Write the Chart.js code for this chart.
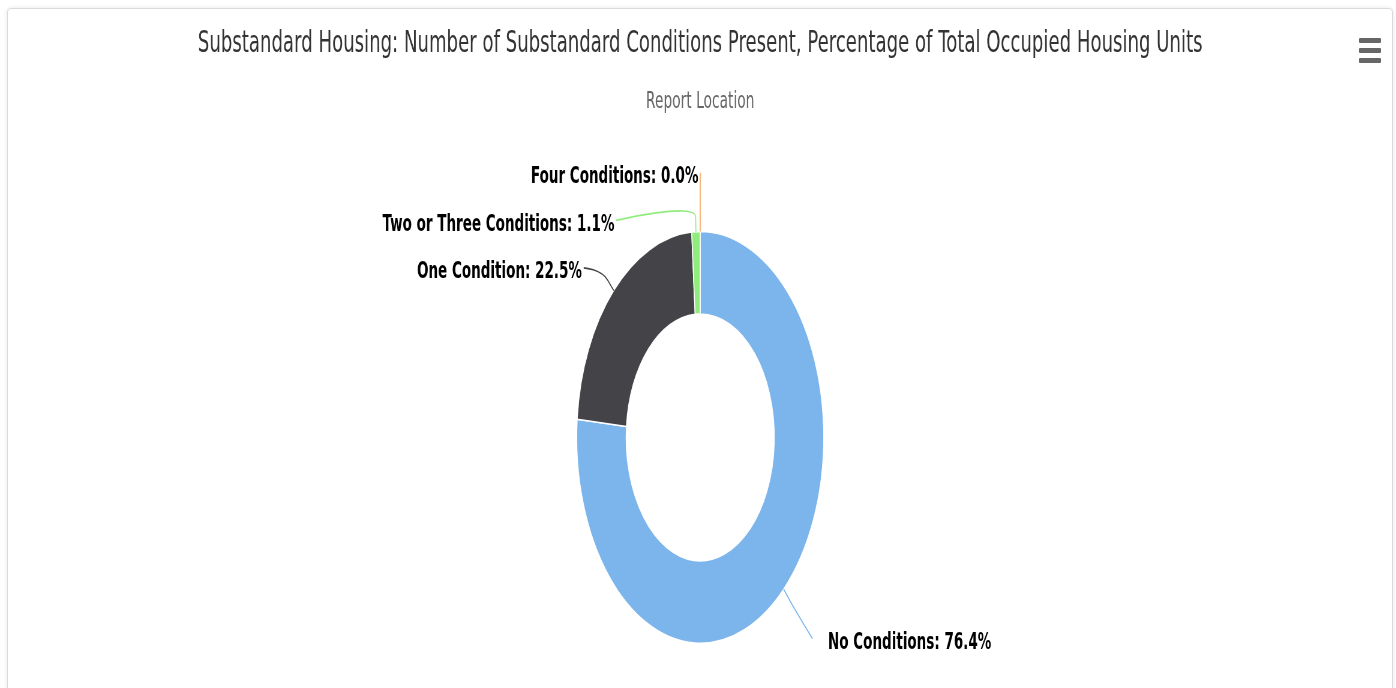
<!DOCTYPE html>
<html>
<head>
<meta charset="utf-8">
<title>Substandard Housing</title>
<script src="https://cdn.jsdelivr.net/npm/chart.js@4.4.0/dist/chart.umd.min.js"></script>
<style>
  html, body { margin: 0; padding: 0; background: #fff; overflow: hidden; }
  #frame {
    position: absolute; left: 7px; top: 8px; width: 1384px; height: 700px;
    border: 1px solid #dadada; border-radius: 4px;
    box-shadow: 0 0 4px rgba(0, 0, 0, 0.10);
  }
  /* the source picture is squeezed sideways, so the chart is drawn wide and scaled down */
  #wrap {
    position: absolute; left: 0; top: 0; width: 2327px; height: 688px;
    transform: scaleX(0.6); transform-origin: 0 0;
  }
  #menu { position: absolute; left: 1359px; top: 38px; width: 22px; }
  #menu span { display: block; height: 5px; margin-bottom: 5px; background: #666; border-radius: 1px; }
</style>
</head>
<body>
<div id="frame"></div>
<div id="wrap"><canvas id="donut" width="2327" height="688"></canvas></div>
<div id="menu"><span></span><span></span><span></span></div>

<script>
// data
var categories = ['No Conditions', 'One Condition', 'Two or Three Conditions', 'Four Conditions'];
var percentages = [76.4, 22.5, 1.1, 0.0];
var sliceColors = ['#7cb5ec', '#434348', '#90ed7d', '#f7a35c'];

var chartTitle = 'Substandard Housing: Number of Substandard Conditions Present, Percentage of Total Occupied Housing Units';
var chartSubtitle = 'Report Location';

// label placement (highcharts-ish outside labels with soft connectors)
var LABEL_DIST = 71;      // natural distance of label from the rim
var PUSHED_DIST = 50;     // distance used when a label had to be moved
var BREAK_DIST = 15;      // where the connector bends
var LINE_GAP = 47.5;      // min vertical gap between labels on one side
var TOP_ROOM = 55;        // highest label sits this far above the plot area

var outsideLabels = {
    id: 'outsideLabels',
    afterDatasetsDraw: function(chart) {
        var ctx = chart.ctx;
        var area = chart.chartArea;
        var meta = chart.getDatasetMeta(0);
        var items = meta.data.map(function(arc, i) {
            var p = arc.getProps(['x', 'y', 'startAngle', 'endAngle', 'outerRadius'], true);
            var mid = (p.startAngle + p.endAngle) / 2;
            var R = p.outerRadius + LABEL_DIST;
            return {
                i: i, p: p, mid: mid,
                left: mid > Math.PI / 2,
                natX: p.x + R * Math.cos(mid),
                natY: p.y + R * Math.sin(mid)
            };
        });

        [true, false].forEach(function(side) {
            var group = items.filter(function(it) { return it.left === side; });
            group.sort(function(a, b) { return a.natY - b.natY; });
            var prev = area.top - TOP_ROOM - LINE_GAP;
            group.forEach(function(it) {
                it.y = Math.max(it.natY, prev + LINE_GAP);
                prev = it.y;
                if (it.y - it.natY > 0.5) {
                    var dy = it.y - it.p.y;
                    var Rx = it.p.outerRadius + PUSHED_DIST;
                    var dx = Math.sqrt(Math.max(0, Rx * Rx - dy * dy));
                    it.x = it.p.x + (side ? -dx : dx);
                } else {
                    it.x = it.natX;
                }
            });
        });

        ctx.save();
        // connectors
        items.forEach(function(it) {
            var r = it.p.outerRadius;
            var ex = it.p.x + r * Math.cos(it.mid), ey = it.p.y + r * Math.sin(it.mid);
            var bx = it.p.x + (r + BREAK_DIST) * Math.cos(it.mid);
            var by = it.p.y + (r + BREAK_DIST) * Math.sin(it.mid);
            var ly = it.y - 3;
            ctx.beginPath();
            ctx.moveTo(it.x, ly);
            ctx.bezierCurveTo(it.x, ly, 2 * bx - ex, 2 * by - ey, bx, by);
            ctx.lineTo(ex, ey);
            ctx.strokeStyle = sliceColors[it.i];
            ctx.lineWidth = 1.6;
            ctx.stroke();
        });
        // texts
        ctx.font = 'bold 22.5px "DejaVu Sans"';
        ctx.fillStyle = '#000';
        ctx.textBaseline = 'middle';
        items.forEach(function(it) {
            var txt = categories[it.i] + ': ' + percentages[it.i].toFixed(1) + '%';
            if (it.left) {
                ctx.textAlign = 'right';
                ctx.fillText(txt, it.x - 3, it.y + 1.5);
            } else {
                ctx.textAlign = 'left';
                ctx.fillText(txt, it.x + 26, it.y + 1.5);
            }
        });
        ctx.restore();
    }
};

new Chart('donut', {
    type: 'doughnut',
    data: {
        labels: categories,
        datasets: [{
            data: percentages,
            backgroundColor: sliceColors,
            borderColor: '#ffffff',
            borderWidth: 1.5,
            hoverOffset: 0
        }]
    },
    options: {
        responsive: false,
        animation: false,
        cutout: '60%',
        layout: { padding: { left: 7, bottom: 44 } },
        plugins: {
            legend: { display: false },
            tooltip: { enabled: false },
            title: {
                display: true,
                text: chartTitle,
                color: '#333333',
                font: { family: 'DejaVu Sans', size: 30.2, weight: 'normal' },
                padding: { top: 26, bottom: 23 }
            },
            subtitle: {
                display: true,
                text: chartSubtitle,
                color: '#666666',
                font: { family: 'DejaVu Sans', size: 23, weight: 'normal' },
                padding: { top: 3, bottom: 115 }
            }
        }
    },
    plugins: [outsideLabels]
});
</script>
</body>
</html>
